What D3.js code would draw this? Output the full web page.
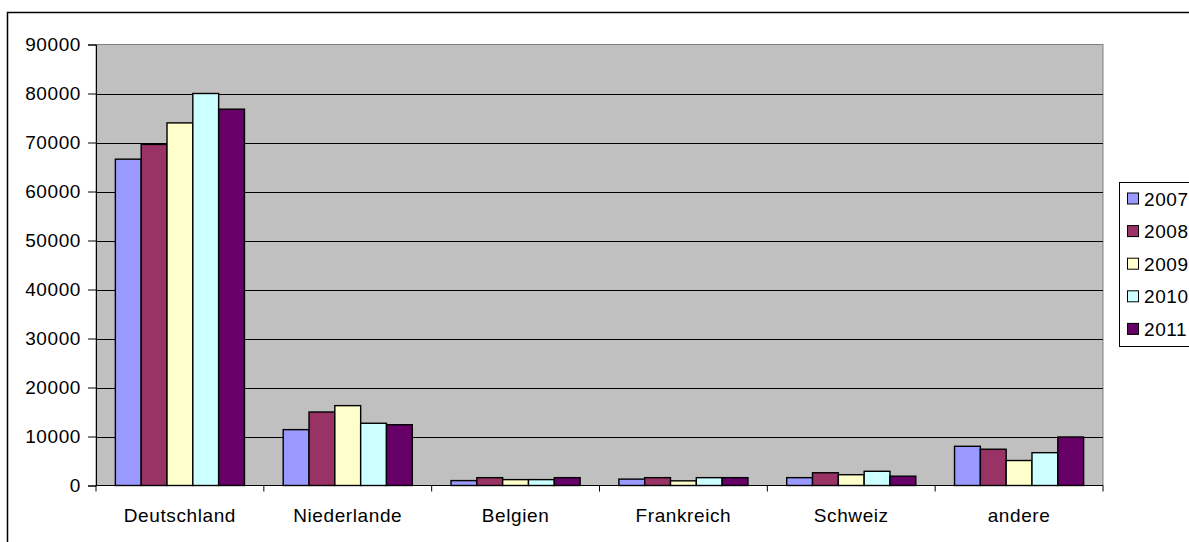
<!DOCTYPE html>
<html>
<head>
<meta charset="utf-8">
<script src="https://cdn.jsdelivr.net/npm/d3@7"></script>
<style>
  html, body { margin: 0; padding: 0; background: #fff; overflow: hidden; }
  svg { display: block; }
  text { font-family: Arial, "Liberation Sans", sans-serif; fill: #000; letter-spacing: 0.6px; }
</style>
</head>
<body>
<svg id="chart" width="1189" height="542"></svg>
<script>
// Countries and yearly values
const categories = ["Deutschland", "Niederlande", "Belgien", "Frankreich", "Schweiz", "andere"];
const years = ["2007", "2008", "2009", "2010", "2011"];
const values2007 = [66600, 11400, 1000, 1300, 1600, 8000];
const values2008 = [69600, 15000, 1600, 1600, 2600, 7400];
const values2009 = [74000, 16300, 1200, 950, 2200, 5100];
const values2010 = [80000, 12700, 1200, 1600, 2900, 6700];
const values2011 = [76800, 12400, 1600, 1600, 1900, 9900];
const yTicks = [0, 10000, 20000, 30000, 40000, 50000, 60000, 70000, 80000, 90000];
const colors = ["#9999FF", "#993366", "#FFFFCC", "#CCFFFF", "#660066"];

const seriesValues = [values2007, values2008, values2009, values2010, values2011];

const svg = d3.select("#chart");
const plot = { left: 96, right: 1103, top: 44.5, bottom: 485.5 };

// outer chart frame
svg.append("rect")
  .attr("x", 7.5).attr("y", 12.5)
  .attr("width", 1300).attr("height", 700)
  .attr("fill", "#fff").attr("stroke", "#000").attr("stroke-width", 1.5);

const x = d3.scaleBand().domain(categories).range([plot.left, plot.right]).padding(0);
const xInner = d3.scaleBand().domain(years).range([0, x.bandwidth()])
  .paddingInner(0).paddingOuter(0.75);
const y = d3.scaleLinear().domain([0, 90000]).range([plot.bottom, plot.top]);

// plot background
svg.append("rect")
  .attr("x", plot.left).attr("y", plot.top)
  .attr("width", plot.right - plot.left).attr("height", plot.bottom - plot.top)
  .attr("fill", "#C0C0C0").attr("stroke", "#808080").attr("stroke-width", 1);

// horizontal gridlines
svg.append("g").selectAll("line")
  .data(yTicks.filter(d => d > 0 && d < 90000))
  .join("line")
  .attr("x1", plot.left).attr("x2", plot.right)
  .attr("y1", d => Math.round(y(d)) + 0.5).attr("y2", d => Math.round(y(d)) + 0.5)
  .attr("stroke", "#000").attr("stroke-width", 1);

// bars
const groups = svg.append("g").selectAll("g")
  .data(categories)
  .join("g")
  .attr("transform", d => `translate(${x(d)},0)`);

groups.selectAll("rect")
  .data((c, ci) => years.map((yr, si) => ({ yr, si, v: seriesValues[si][ci] })))
  .join("rect")
  .attr("x", d => xInner(d.yr))
  .attr("width", xInner.bandwidth())
  .attr("y", d => y(d.v))
  .attr("height", d => y(0) - y(d.v))
  .attr("fill", d => colors[d.si])
  .attr("stroke", "#000").attr("stroke-width", 1.4);

// y axis
const yAxis = svg.append("g")
  .attr("transform", `translate(${plot.left},0)`)
  .call(d3.axisLeft(y).tickValues(yTicks).tickFormat(d3.format("d")).tickSize(8).tickPadding(7));
yAxis.select(".domain").attr("stroke", "#000");
yAxis.selectAll(".tick line").attr("stroke", "#000");
yAxis.selectAll("text").style("font-size", "19px").attr("fill", "#000");

// x axis: ticks at category boundaries
const xAxis = svg.append("g").attr("transform", `translate(0,${plot.bottom})`);
xAxis.append("line")
  .attr("x1", plot.left).attr("x2", plot.right)
  .attr("y1", 0).attr("y2", 0).attr("stroke", "#000");
xAxis.selectAll("line.tick")
  .data(categories.slice(1).concat(["_end"]))
  .join("line")
  .attr("class", "tick")
  .attr("x1", (d, i) => i < categories.length - 1 ? x(d) : plot.right)
  .attr("x2", (d, i) => i < categories.length - 1 ? x(d) : plot.right)
  .attr("y1", 0).attr("y2", 6).attr("stroke", "#000");
xAxis.append("line")
  .attr("x1", plot.left).attr("x2", plot.left)
  .attr("y1", 0).attr("y2", 6).attr("stroke", "#000");
xAxis.selectAll("text")
  .data(categories)
  .join("text")
  .attr("x", d => x(d) + x.bandwidth() / 2)
  .attr("y", 36)
  .attr("text-anchor", "middle")
  .style("font-size", "19px")
  .text(d => d);

// legend
const legend = svg.append("g");
legend.append("rect")
  .attr("x", 1119.5).attr("y", 182.5)
  .attr("width", 120).attr("height", 164)
  .attr("fill", "#fff").attr("stroke", "#000").attr("stroke-width", 1);
const items = legend.selectAll("g.item")
  .data(years)
  .join("g")
  .attr("class", "item")
  .attr("transform", (d, i) => `translate(0,${198.5 + i * 32.6})`);
items.append("rect")
  .attr("x", 1127.5).attr("y", -5.5)
  .attr("width", 11).attr("height", 11)
  .attr("fill", (d, i) => colors[i])
  .attr("stroke", "#000").attr("stroke-width", 1);
items.append("text")
  .attr("x", 1144).attr("y", 7)
  .style("font-size", "19px")
  .text(d => d);
</script>
</body>
</html>
